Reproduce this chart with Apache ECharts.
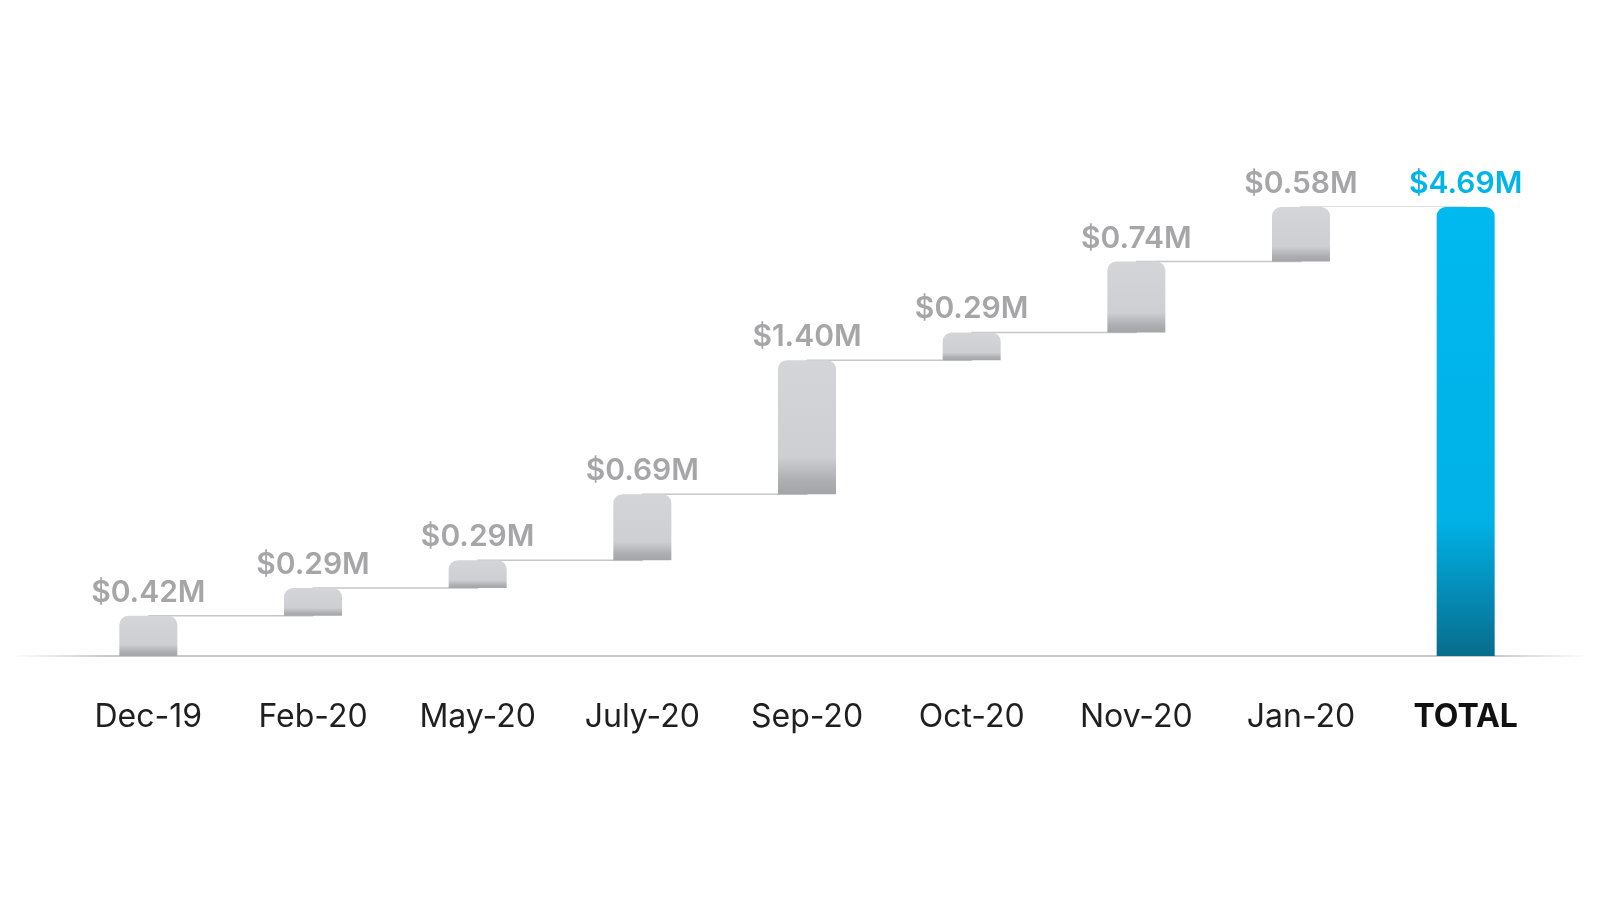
<!DOCTYPE html>
<html><head><meta charset="utf-8">
<script src="https://cdn.jsdelivr.net/npm/echarts@6/dist/echarts.min.js"></script>
<style>html,body{margin:0;padding:0;background:#fff}#c{width:1600px;height:900px}</style>
</head><body><div id="c"></div>
<script>
const categories = ['Dec-19','Feb-20','May-20','July-20','Sep-20','Oct-20','Nov-20','Jan-20','TOTAL'];
const increments = [0.42, 0.29, 0.29, 0.69, 1.40, 0.29, 0.74, 0.58];
const totalValue = 4.69;
const labelTexts = ['$0.42M','$0.29M','$0.29M','$0.69M','$1.40M','$0.29M','$0.74M','$0.58M','$4.69M'];

const base = [];
let acc = 0;
const cumulative = [];
increments.forEach(v => { base.push(+acc.toFixed(2)); acc += v; cumulative.push(+acc.toFixed(2)); });
base.push(0);
cumulative.push(totalValue);

const greyGrad = new echarts.graphic.LinearGradient(0,0,0,1,[
  {offset:0,color:'#d3d5d9'},{offset:0.72,color:'#cdcfd3'},{offset:0.9,color:'#acaeb2'},{offset:1,color:'#a3a5a9'}]);
const blueGrad = new echarts.graphic.LinearGradient(0,0,0,1,[
  {offset:0,color:'#00b9ef'},{offset:0.7,color:'#00b1e6'},{offset:1,color:'#086c8c'}]);

const valueData = increments.map((v,i)=>({value:v, itemStyle:{color:greyGrad},
  label:{formatter:labelTexts[i]}}));
valueData.push({value:totalValue, itemStyle:{color:blueGrad},
  label:{formatter:labelTexts[8], color:'#00b5ea'}});

const chart = echarts.init(document.getElementById('c'));
chart.setOption({
  animation:false,
  backgroundColor:'#fff',
  grid:{left:66, right:52, top:207, bottom:244, containLabel:false},
  xAxis:{type:'category', data:categories,
    axisLine:{show:false}, axisTick:{show:false},
    axisLabel:{interval:0, margin:45, fontFamily:'Inter', fontSize:32, color:'#1f1f1f',
      formatter:(v)=> v==='TOTAL' ? '{b|'+v+'}' : v,
      rich:{b:{fontFamily:'Inter', fontSize:32, fontWeight:'bold', color:'#111'}}}},
  yAxis:{type:'value', min:0, max:4.69, show:false, splitLine:{show:false}},
  series:[
    {type:'line', data:cumulative, step:'end', symbol:'none', z:1,
      lineStyle:{color:'#c6c6c8', width:1.5}},
    {type:'bar', stack:'w', data:base, barWidth:58, z:2,
      itemStyle:{color:'transparent'}, silent:true},
    {type:'bar', stack:'w', data:valueData, barWidth:58, z:3,
      itemStyle:{borderRadius:[9,9,0,0]},
      label:{show:true, position:'top', distance:8, fontFamily:'Inter', fontWeight:600,
        fontSize:30, color:'#a6a6a8'}}
  ]
});
const y0 = chart.convertToPixel({yAxisIndex:0}, 0);
chart.setOption({graphic:[{type:'line', z:0, shape:{x1:15,y1:y0,x2:1585,y2:y0},
  style:{lineWidth:2, stroke:new echarts.graphic.LinearGradient(0,0,1,0,[
    {offset:0,color:'rgba(200,200,202,0)'},{offset:0.06,color:'#c9c9cb'},
    {offset:0.94,color:'#c9c9cb'},{offset:1,color:'rgba(200,200,202,0)'}])}}]});
</script></body></html>
